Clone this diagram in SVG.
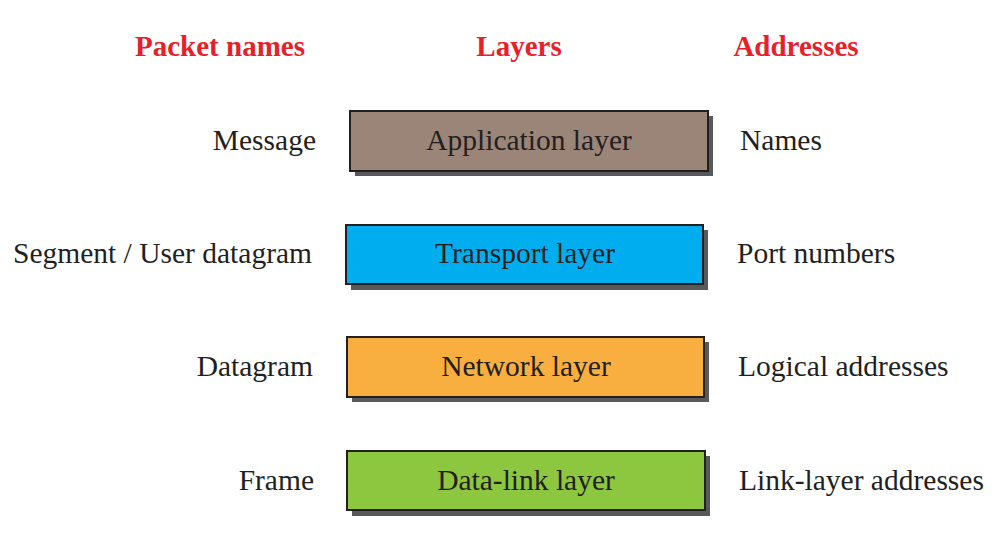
<svg xmlns="http://www.w3.org/2000/svg" width="998" height="536" viewBox="0 0 998 536">
<style>
.hdr{font-family:"Liberation Serif","Times New Roman",serif;font-weight:bold;font-size:29px;fill:#e8202a;text-anchor:middle}
.lbl{font-family:"Liberation Serif","Times New Roman",serif;font-size:29.5px;fill:#231f20}
.l{text-anchor:end}
.c{text-anchor:middle}
.box{stroke:#231f20;stroke-width:2}
.sh{fill:#58595b}
</style>
<rect width="998" height="536" fill="#ffffff"/>
<g id="headers">
<text class="hdr" x="220" y="56">Packet names</text>
<text class="hdr" x="519" y="56">Layers</text>
<text class="hdr" x="796" y="56">Addresses</text>
</g>
<g id="application">
<rect class="sh" x="355" y="116" width="358" height="60"/>
<rect class="box" x="350" y="111" width="358" height="60" fill="#9b8579"/>
<text class="lbl c" x="529" y="150">Application layer</text>
<text class="lbl l" x="316" y="150">Message</text>
<text class="lbl" x="740" y="150">Names</text>
</g>
<g id="transport">
<rect class="sh" x="351" y="230" width="357" height="60"/>
<rect class="box" x="346" y="225" width="357" height="59" fill="#00aeef"/>
<text class="lbl c" x="525" y="263">Transport layer</text>
<text class="lbl l" x="312" y="263">Segment / User datagram</text>
<text class="lbl" x="737" y="263">Port numbers</text>
</g>
<g id="network">
<rect class="sh" x="352" y="342" width="357" height="60"/>
<rect class="box" x="347" y="337" width="357" height="60" fill="#f9ae40"/>
<text class="lbl c" x="526" y="376">Network layer</text>
<text class="lbl l" x="313" y="376">Datagram</text>
<text class="lbl" x="738" y="376">Logical addresses</text>
</g>
<g id="datalink">
<rect class="sh" x="352" y="456" width="358" height="60"/>
<rect class="box" x="347" y="451" width="358" height="59" fill="#8dc63f"/>
<text class="lbl c" x="526" y="490">Data-link layer</text>
<text class="lbl l" x="314" y="490">Frame</text>
<text class="lbl" x="739" y="490">Link-layer addresses</text>
</g>
<g id="connectors"></g>
</svg>
